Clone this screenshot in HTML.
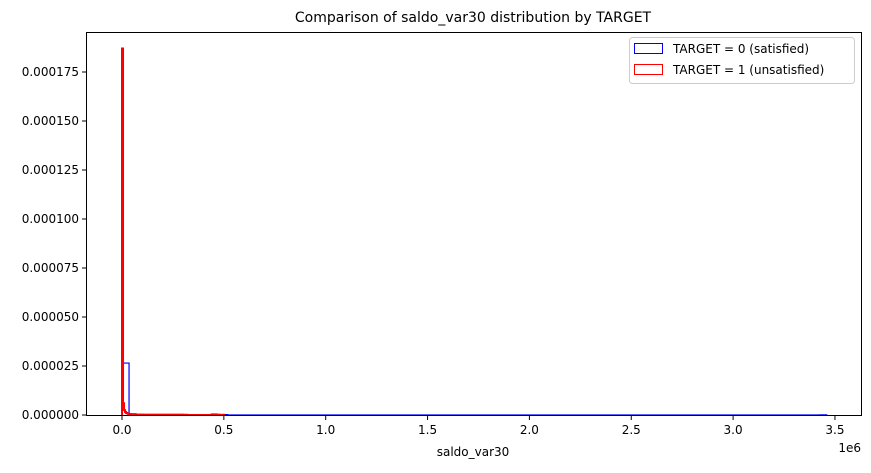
<!DOCTYPE html>
<html><head><meta charset="utf-8"><style>
body{margin:0;background:#fff;}
svg text{font-family:"DejaVu Sans","Liberation Sans",sans-serif;fill:#000;}
</style></head><body>
<svg id="chart" width="871" height="468" xmlns="http://www.w3.org/2000/svg">
<text x="473" y="22" font-size="14" text-anchor="middle">Comparison of saldo_var30 distribution by TARGET</text>
<g id="plot"></g>
<rect x="86.5" y="32.5" width="775" height="383" fill="none" stroke="#000" stroke-width="1"/>
<text x="473" y="456" font-size="12" text-anchor="middle">saldo_var30</text>
<text x="861" y="452" font-size="12" text-anchor="end">1e6</text>
<g>
<rect x="629.5" y="37.5" width="225" height="46" rx="3" fill="#fff" stroke="#ccc"/>
<rect x="634.5" y="43.5" width="28" height="10" fill="none" stroke="blue"/>
<text x="673" y="53" font-size="12">TARGET = 0 (satisfied)</text>
<rect x="634.5" y="64.5" width="28" height="10" fill="none" stroke="red"/>
<text x="673" y="74" font-size="12">TARGET = 1 (unsatisfied)</text>
</g>
</svg>
<script>
const xTicks=[0,0.5,1.0,1.5,2.0,2.5,3.0,3.5];
const xTickLabels=["0.0","0.5","1.0","1.5","2.0","2.5","3.0","3.5"];
const yTicks=[0,0.000025,0.00005,0.000075,0.0001,0.000125,0.00015,0.000175];
const yTickLabels=["0.000000","0.000025","0.000050","0.000075","0.000100","0.000125","0.000150","0.000175"];
// blue: bins of width 0.0346 (1e6 units) starting at 0
const blueBinStart=0, blueBinWidth=0.0346;
const blueValues=[0.0000265,0.0000006,0.0000003,0.0000002,0.0000002,0.0000001,0.0000001,0.0000001,0.0000001,0.0000001,0.0000001,0.0000001,0.0000001,0.0000003,0.0000002,0,0,0,0,0,0,0,0,0,0,0,0,0,0,0,0,0,0,0,0,0,0,0,0,0,0,0,0,0,0,0,0,0,0,0,0,0,0,0,0,0,0,0,0,0,0,0,0,0,0,0,0,0,0,0,0,0,0,0,0,0,0,0,0,0,0,0,0,0,0,0,0,0,0,0,0,0,0,0,0,0,0,0,0,0.0000001];
// red: bins of width 0.005 starting at 0
const redBinStart=0, redBinWidth=0.005;
const redValues=[0.000187,0.000006,0.0000025,0.0000015,0.000001,0.0000008,0.0000006,0.0000005,0.0000004,0.0000003,0.0000003,0.0000003,0.0000002,0.0000002,0.0000002,0.0000002,0.0000002,0.0000002,0.0000002,0.0000002,0.0000002,0.0000002,0.0000002,0.0000002,0.0000002,0.0000002,0.0000002,0.0000002,0.0000002,0.0000002,0.0000002,0.0000002,0.0000002,0.0000002,0.0000002,0.0000002,0.0000002,0.0000002,0.0000002,0.0000002,0.0000002,0.0000002,0.0000002,0.0000002,0.0000002,0.0000002,0.0000002,0.0000002,0.0000002,0.0000002,0.0000002,0.0000002,0.0000002,0.0000002,0.0000002,0.0000002,0.0000002,0.0000002,0.0000002,0.0000002,0.0000001,0.0000001,0.0000001,0.0000001,0,0,0,0,0,0,0,0,0,0,0,0,0,0,0,0,0,0,0,0,0,0,0,0,0.0000003,0.0000003,0.0000003,0.0000003,0.0000003,0,0,0,0,0,0,0.0000001];

const NS="http://www.w3.org/2000/svg";
const g=document.getElementById('plot');
const xs=v=>122+v*203.7;
const ys=v=>415-v/0.000025*49;
function el(t,a){const e=document.createElementNS(NS,t);for(const k in a)e.setAttribute(k,a[k]);g.appendChild(e);return e;}
xTicks.forEach((t,i)=>{
  const l=el('line',{x1:xs(t),x2:xs(t),y1:416,y2:420,stroke:'#000'});
  
  
  const tx=el('text',{x:xs(t),y:434,'font-size':12,'text-anchor':'middle'});
  tx.textContent=xTickLabels[i];
  
  
});
yTicks.forEach((t,i)=>{
  const l=el('line',{x1:82,x2:86,y1:ys(t),y2:ys(t),stroke:'#000'});
  
  
  const tx=el('text',{x:79,y:ys(t)+4,'font-size':12,'text-anchor':'end'});
  tx.textContent=yTickLabels[i];
  
  
});
function step(vals,start,w,color,name){
  let d='M'+xs(start)+','+ys(0);
  vals.forEach((v,i)=>{d+=' L'+xs(start+i*w)+','+ys(v)+' L'+xs(start+(i+1)*w)+','+ys(v);});
  d+=' L'+xs(start+vals.length*w)+','+ys(0);
  const p=el('path',{d:d,fill:'none',stroke:color,'stroke-width':name==='red-histogram'?2:1.2});
  
  
}
step(blueValues,blueBinStart,blueBinWidth,'blue','blue-histogram');
step(redValues,redBinStart,redBinWidth,'red','red-histogram');
</script>
</body></html>
